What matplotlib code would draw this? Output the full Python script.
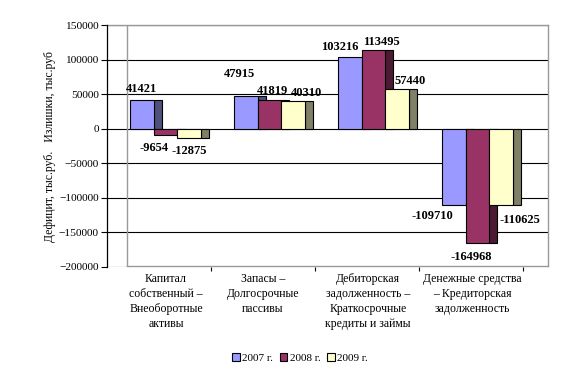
import numpy as np
import matplotlib.pyplot as plt

plt.rcParams['font.family'] = ['Liberation Serif', 'DejaVu Serif']

# data
categories = ['Капитал\nсобственный –\nВнеоборотные\nактивы',
              'Запасы –\nДолгосрочные\nпассивы',
              'Дебиторская\nзадолженность –\nКраткосрочные\nкредиты и займы',
              'Денежные средства\n– Кредиторская\nзадолженность']
y2007 = [41421, 47915, 103216, -109710]
y2008 = [-9654, 41819, 113495, -164968]
y2009 = [-12875, 40310, 57440, -110625]
years = ['2007 г.', '2008 г.', '2009 г.']

front_cols = ['#9999FF', '#993366', '#FFFFCC']
side_cols = ['#50507F', '#4C1A33', '#808066']

# label nudges in pixels (dx, dy) as placed in the original
label_shift = [[(0, 11), (-11, -13), (1, -13)],
               [(-6, 22), (3, 9), (14, 8)],
               [(-10, 10), (8, 8), (13, 8)],
               [(-21, -11), (-6, -14), (19, -15)]]
cat_nudge = [7, 0, 1, 1]

fig = plt.figure(figsize=(5.83, 3.77), dpi=100)
W, H = 583, 377
L, R, T, B = 107, 548, 25, 267
ax = fig.add_axes([L / W, 1 - B / H, (R - L) / W, (B - T) / H])

cat_px = 104.0
ax.set_xlim(0, (R - L) / cat_px)
ax.set_ylim(-200000, 150000)

off = 23 / cat_px
bw = 23.5 / cat_px
depth = 8 / cat_px
x = np.arange(len(categories))
series = [y2007, y2008, y2009]

for k, vals in enumerate(series):
    x0 = x + off + k * bw
    ax.bar(x0 + bw, vals, width=depth, align='edge', color=side_cols[k],
           edgecolor='black', linewidth=0.8, zorder=3 + 2 * k)
    ax.bar(x0, vals, width=bw, align='edge', color=front_cols[k],
           edgecolor='black', linewidth=0.8, zorder=4 + 2 * k, label=years[k])
    for i, v in enumerate(vals):
        dx, dy = label_shift[i][k]
        ax.annotate(str(v), (x0[i] + bw / 2, v), xytext=(dx * 0.72, dy * 0.72),
                    textcoords='offset points', ha='center', va='center',
                    fontsize=9, fontweight='bold', zorder=20)

# gridlines and walls
ax.set_yticks(np.arange(-200000, 150001, 50000))
ax.yaxis.grid(True, color='black', linewidth=0.8, zorder=1)
ax.set_axisbelow(True)
for s in ['top', 'right', 'bottom']:
    ax.spines[s].set_visible(False)
ax.spines['left'].set_linewidth(0.9)
wall_x = 20 / cat_px
xmax = (R - L) / cat_px
ax.plot([wall_x, wall_x], [-198000, 150000], color='#999999', lw=1, zorder=2)
ax.plot([wall_x, xmax], [-198000, -198000], color='#999999', lw=1,
        zorder=2, clip_on=False)
ax.plot([0, xmax], [150000, 150000], color='#999999', lw=1,
        zorder=2, clip_on=False)
ax.plot([xmax, xmax], [-198000, 150000], color='#999999', lw=1,
        zorder=2, clip_on=False)

ax.tick_params(axis='y', direction='out', length=4, width=0.8, labelsize=8.2, pad=2)
ax.set_xticks(x + 1)
ax.tick_params(axis='x', direction='out', length=3, width=0.8, labelbottom=False)
for i, c in enumerate(categories):
    ax.annotate(c, (x[i] + 0.5, -200000), xytext=(cat_nudge[i] * 0.72, -4),
                textcoords='offset points', ha='center', va='top',
                fontsize=8.5, linespacing=1.35)

fig.text(50 / W, 1 - 146 / H, 'Дефицит, тыс.руб.   Излишки, тыс.руб',
         rotation=90, ha='center', va='center', fontsize=8.5)

handles, labels = ax.get_legend_handles_labels()
fig.legend(handles, labels, loc='center', bbox_to_anchor=(300 / W, 1 - 358 / H),
           ncol=3, frameon=False, fontsize=8, handlelength=0.7, handleheight=0.7,
           handletextpad=0.2, columnspacing=0.6)

fig.savefig('out.png', dpi=100)
